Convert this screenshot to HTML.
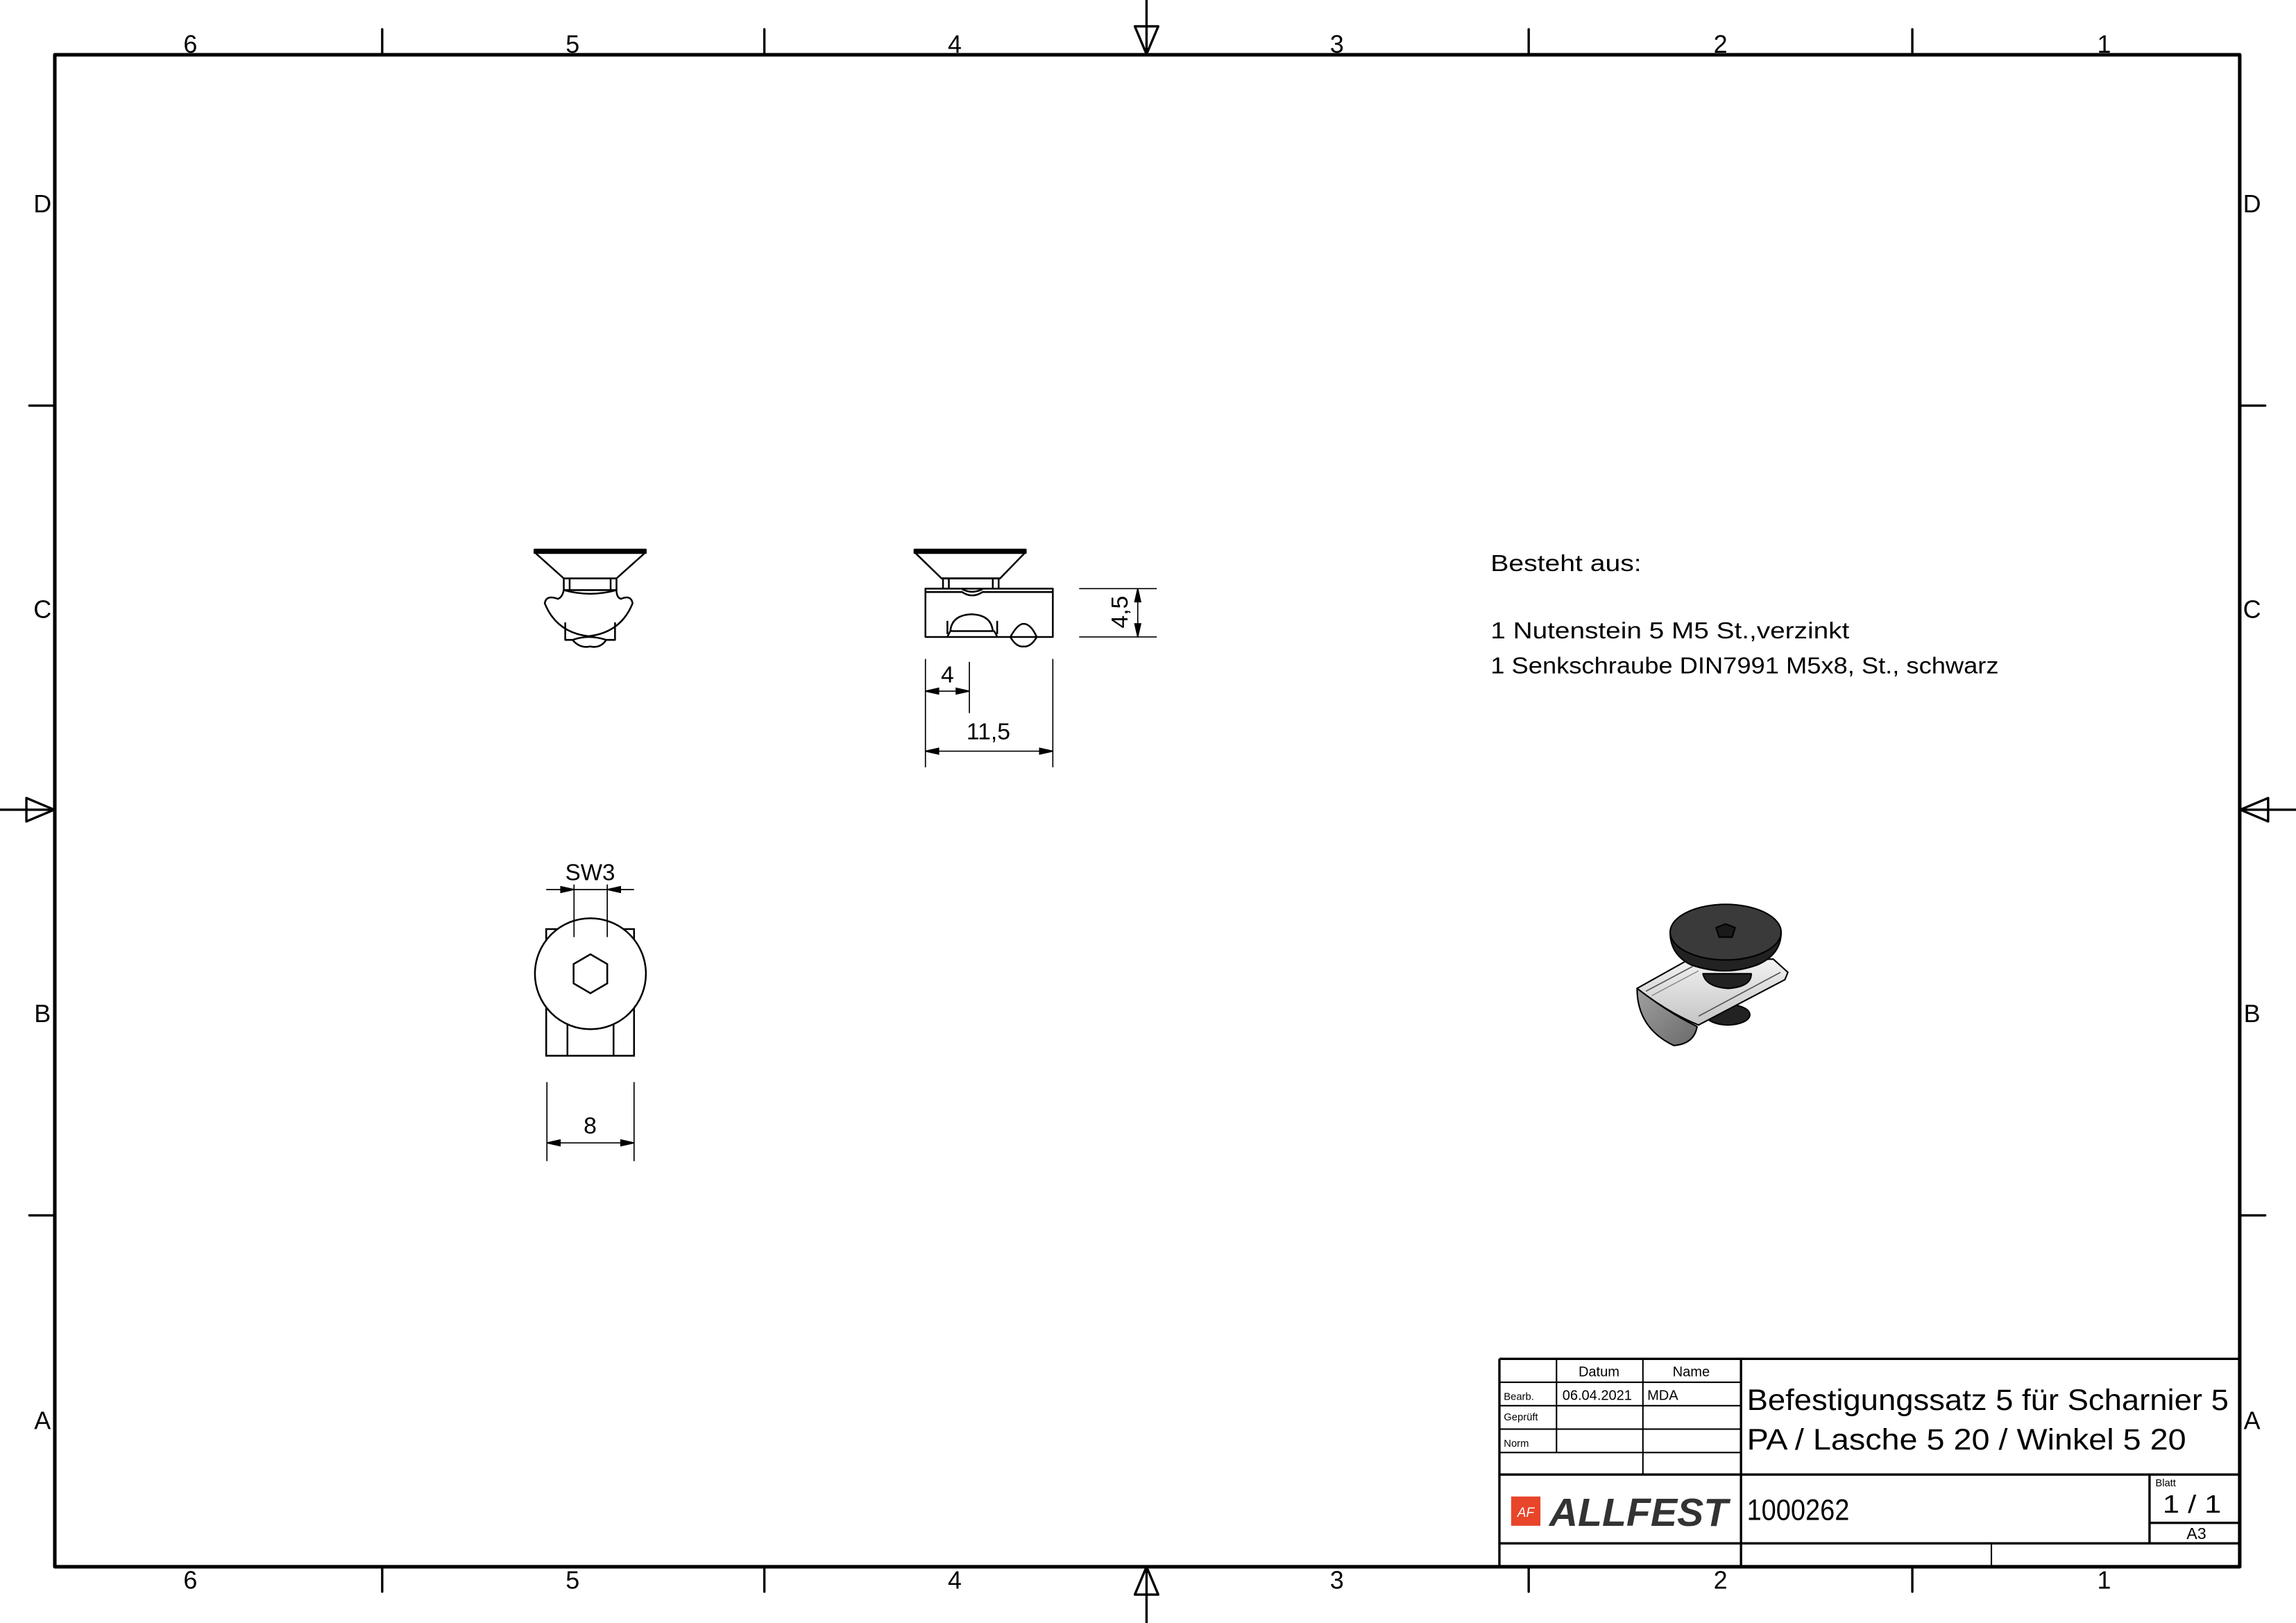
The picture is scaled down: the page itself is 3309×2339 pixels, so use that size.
<!DOCTYPE html>
<html><head><meta charset="utf-8">
<style>
html,body{margin:0;padding:0;background:#fff;}
svg{display:block;}
text{font-family:"Liberation Sans",sans-serif;fill:#000;}
</style></head>
<body>
<svg width="3309" height="2339" viewBox="0 0 1568 1108.4" xmlns="http://www.w3.org/2000/svg">
<rect width="1568" height="1108.4" fill="#fff"/>
<g fill="none" stroke="#000" stroke-linecap="round" stroke-linejoin="round">
  <rect x="37.4" y="37.4" width="1492.2" height="1032.6" stroke-width="2.4"/>
  <g stroke-width="1.6">
    <line x1="261" y1="20" x2="261" y2="37"/><line x1="522" y1="20" x2="522" y2="37"/>
    <line x1="1044" y1="20" x2="1044" y2="37"/><line x1="1306" y1="20" x2="1306" y2="37"/>
    <line x1="261" y1="1070" x2="261" y2="1087"/><line x1="522" y1="1070" x2="522" y2="1087"/>
    <line x1="1044" y1="1070" x2="1044" y2="1087"/><line x1="1306" y1="1070" x2="1306" y2="1087"/>
    <line x1="20" y1="277" x2="37" y2="277"/><line x1="20" y1="830" x2="37" y2="830"/>
    <line x1="1530" y1="277" x2="1547" y2="277"/><line x1="1530" y1="830" x2="1547" y2="830"/>
    <line x1="783" y1="0" x2="783" y2="37"/><path d="M775,18 L791,18 L783,37 Z"/>
    <line x1="783" y1="1070" x2="783" y2="1108"/><path d="M775,1089 L791,1089 L783,1070 Z"/>
    <line x1="0" y1="553" x2="37" y2="553"/><path d="M18,545 L18,561 L37,553 Z"/>
    <line x1="1530" y1="553" x2="1568" y2="553"/><path d="M1549,545 L1549,561 L1530,553 Z"/>
  </g>
</g>
<g font-size="17" text-anchor="middle">
  <text x="130" y="36">6</text><text x="391" y="36">5</text><text x="652" y="36">4</text>
  <text x="913" y="36">3</text><text x="1175" y="36">2</text><text x="1437" y="36">1</text>
  <text x="130" y="1085">6</text><text x="391" y="1085">5</text><text x="652" y="1085">4</text>
  <text x="913" y="1085">3</text><text x="1175" y="1085">2</text><text x="1437" y="1085">1</text>
  <text x="29" y="145">D</text><text x="29" y="422">C</text><text x="29" y="698">B</text><text x="29" y="976">A</text>
  <text x="1538" y="145">D</text><text x="1538" y="422">C</text><text x="1538" y="698">B</text><text x="1538" y="976">A</text>
</g>

<!-- Front view -->
<g fill="none" stroke="#000" stroke-width="1.2" stroke-linejoin="round">
  <rect x="365" y="375.3" width="76" height="2.4" fill="#000"/>
  <path d="M366,378 L385,395 L421,395 L440,378"/>
  <path d="M385,395 L385,403 M389,395 L389,403 M417,395 L417,403 M421,395 L421,403 M385,403 L421,403"/>
  <path d="M385,403 Q403,408 421,403"/>
  <path d="M385,403 Q384,408 381,409 Q373,406 372,412 Q380,432 402,434.5 Q424,432 432,412 Q431,406 424,409 Q421,408 421,403"/>
  <path d="M386,425 L386,437 L391,437 Q396,443 403,441.5 Q410,443 414,437 L420,437 L420,425"/>
  <path d="M391,437 Q402,433 414,437"/>
</g>

<!-- Side view -->
<g fill="none" stroke="#000" stroke-width="1.2" stroke-linejoin="round">
  <rect x="624.5" y="375.3" width="76" height="2.4" fill="#000"/>
  <path d="M625.5,378 L643,395 L683,395 L699.5,378"/>
  <path d="M643,395 L683,395 M644,395 L644,402 M648,395 L648,402 M678,395 L678,402 M682,395 L682,402"/>
  <rect x="632" y="402" width="87" height="33"/>
  <path d="M632,404.3 L657,404.3 Q664,409 671,404.3 L719,404.3"/>
  <path d="M657,402.3 Q664,406 671,402.3"/>
  <path d="M647,435 Q649,430 650,431 L678,431 Q679,430 681,435"/>
  <path d="M649,431 Q650,420 663.5,419.5 Q677,420 678,431"/>
  <path d="M647,424 L647,433 M681,424 L681,433"/>
  <path d="M690,435 Q695,426 699,426 Q704,426 708,435 Q704,442 699,441.5 Q694,442 690,435 Z"/>
</g>
<g stroke="#000" stroke-width="0.8" fill="#000">
  <line x1="737" y1="402" x2="790" y2="402"/><line x1="737" y1="435" x2="790" y2="435"/>
  <line x1="777" y1="402" x2="777" y2="435"/>
  <path d="M777,402 L775,411 L779,411 Z"/><path d="M777,435 L775,426 L779,426 Z"/>
  <line x1="632" y1="450" x2="632" y2="524"/><line x1="662" y1="452" x2="662" y2="487"/>
  <line x1="719" y1="450" x2="719" y2="524"/>
  <line x1="632" y1="472" x2="662" y2="472"/>
  <path d="M632,472 L641,470 L641,474 Z"/><path d="M662,472 L653,470 L653,474 Z"/>
  <line x1="632" y1="513" x2="719" y2="513"/>
  <path d="M632,513 L641,511 L641,515 Z"/><path d="M719,513 L710,511 L710,515 Z"/>
</g>
<g font-size="16" text-anchor="middle">
  <text x="647" y="466">4</text>
  <text x="675" y="505">11,5</text>
  <text transform="translate(770,418) rotate(-90)" text-anchor="middle">4,5</text>
</g>

<!-- Top view -->
<g fill="none" stroke="#000" stroke-width="1.2">
  <rect x="373" y="634.5" width="60" height="86.5"/>
  <line x1="387.5" y1="690" x2="387.5" y2="721"/><line x1="419" y1="690" x2="419" y2="721"/>
  <circle cx="403.2" cy="665" r="37.9" fill="#fff"/>
  <polygon points="403.2,651.7 414.7,658.4 414.7,671.6 403.2,678.3 391.7,671.6 391.7,658.4"/>
</g>
<g stroke="#000" stroke-width="0.8" fill="#000">
  <line x1="392" y1="604" x2="392" y2="640"/><line x1="414.7" y1="604" x2="414.7" y2="640"/>
  <line x1="373" y1="607.5" x2="433" y2="607.5"/>
  <path d="M392,607.5 L383,605.5 L383,609.5 Z"/><path d="M414.7,607.5 L423.7,605.5 L423.7,609.5 Z"/>
  <line x1="373.5" y1="739" x2="373.5" y2="793"/><line x1="433" y1="739" x2="433" y2="793"/>
  <line x1="373.5" y1="780.5" x2="433" y2="780.5"/>
  <path d="M373.5,780.5 L382.5,778.5 L382.5,782.5 Z"/><path d="M433,780.5 L424,778.5 L424,782.5 Z"/>
</g>
<g font-size="16" text-anchor="middle">
  <text x="403" y="601" textLength="34" lengthAdjust="spacingAndGlyphs">SW3</text>
  <text x="403" y="774">8</text>
</g>

<g font-size="16">
  <text x="1018" y="390" textLength="103" lengthAdjust="spacingAndGlyphs">Besteht aus:</text>
  <text x="1018" y="436" textLength="245" lengthAdjust="spacingAndGlyphs">1 Nutenstein 5 M5 St.,verzinkt</text>
  <text x="1018" y="460" textLength="347" lengthAdjust="spacingAndGlyphs">1 Senkschraube DIN7991 M5x8, St., schwarz</text>
</g>

<!-- 3D image -->
<defs>
  <linearGradient id="g1" x1="0" y1="0" x2="0" y2="1"><stop offset="0" stop-color="#f2f2f2"/><stop offset="1" stop-color="#c4c4c4"/></linearGradient>
  <linearGradient id="g2" x1="0" y1="0" x2="1" y2="1"><stop offset="0" stop-color="#a0a0a0"/><stop offset="1" stop-color="#6a6a6a"/></linearGradient>
</defs>
<g stroke="#000" stroke-width="1" stroke-linejoin="round">
  <ellipse cx="1180" cy="693" rx="15" ry="7" fill="#222"/>
  <path d="M1118,675 L1152,656 L1211,655 L1221,664 L1219,669 L1160,700 Q1140,692 1118,675 Z" fill="url(#g1)"/>
  <path d="M1118,675 Q1118,702 1143,714 Q1157,713 1159,701 Q1140,692 1118,675 Z" fill="url(#g2)"/>
  <path d="M1124,677 L1156,660 M1160,694 L1216,664" fill="none" stroke="#555" stroke-width="0.8"/>
  <path d="M1128,680 L1160,663" fill="none" stroke="#888" stroke-width="0.7"/>
  <path d="M1163,665 Q1165,674 1180,675 Q1196,674 1196,665 Z" fill="#222"/>
  <path d="M1140.6,636.6 Q1140.6,652 1155,659 Q1178,667 1200,659 Q1216.4,652 1216.4,636.6 Z" fill="#222"/>
  <ellipse cx="1178.5" cy="636.6" rx="37.9" ry="19" fill="#3a3a3a"/>
  <polygon points="1178.5,631 1185,633.5 1183,640 1174,640 1172,633.5" fill="#1a1a1a"/>
</g>

<!-- Title block -->
<g fill="none" stroke="#000">
  <g stroke-width="1.6">
    <line x1="1024" y1="928" x2="1530" y2="928"/>
    <line x1="1024" y1="928" x2="1024" y2="1070"/>
    <line x1="1189" y1="928" x2="1189" y2="1070"/>
    <line x1="1024" y1="1007" x2="1530" y2="1007"/>
    <line x1="1024" y1="1054" x2="1530" y2="1054"/>
    <line x1="1468" y1="1007" x2="1468" y2="1054"/>
    <line x1="1468" y1="1040" x2="1530" y2="1040"/>
  </g>
  <g stroke-width="1">
    <line x1="1024" y1="944" x2="1189" y2="944"/>
    <line x1="1024" y1="960" x2="1189" y2="960"/>
    <line x1="1024" y1="976" x2="1189" y2="976"/>
    <line x1="1024" y1="992" x2="1189" y2="992"/>
    <line x1="1063" y1="928" x2="1063" y2="992"/>
    <line x1="1122" y1="928" x2="1122" y2="1007"/>
    <line x1="1360" y1="1054" x2="1360" y2="1070"/>
  </g>
</g>
<g font-size="9.5">
  <text x="1092" y="940" text-anchor="middle">Datum</text>
  <text x="1155" y="940" text-anchor="middle">Name</text>
  <text x="1067" y="956">06.04.2021</text>
  <text x="1125" y="956">MDA</text>
</g>
<g font-size="7">
  <text x="1027" y="956">Bearb.</text>
  <text x="1027" y="970">Geprüft</text>
  <text x="1027" y="988">Norm</text>
  <text x="1472" y="1015">Blatt</text>
</g>
<g font-size="20">
  <text x="1193" y="963" textLength="329" lengthAdjust="spacingAndGlyphs">Befestigungssatz 5 für Scharnier 5</text>
  <text x="1193" y="990" textLength="300" lengthAdjust="spacingAndGlyphs">PA / Lasche 5 20 / Winkel 5 20</text>
  <text x="1193" y="1038" textLength="70" lengthAdjust="spacingAndGlyphs">1000262</text>
  <text x="1477" y="1033" font-size="17" textLength="40" lengthAdjust="spacingAndGlyphs">1 / 1</text>
</g>
<text x="1500" y="1051" font-size="11" text-anchor="middle">A3</text>
<rect x="1032" y="1022" width="20" height="20" fill="#e8452a"/>
<text x="1042" y="1036" font-size="9" text-anchor="middle" font-style="italic" style="fill:#fff">AF</text>
<text x="1058" y="1042" font-size="27" font-weight="bold" font-style="italic" style="fill:#333" textLength="122" lengthAdjust="spacingAndGlyphs">ALLFEST</text>
</svg>
</body></html>
